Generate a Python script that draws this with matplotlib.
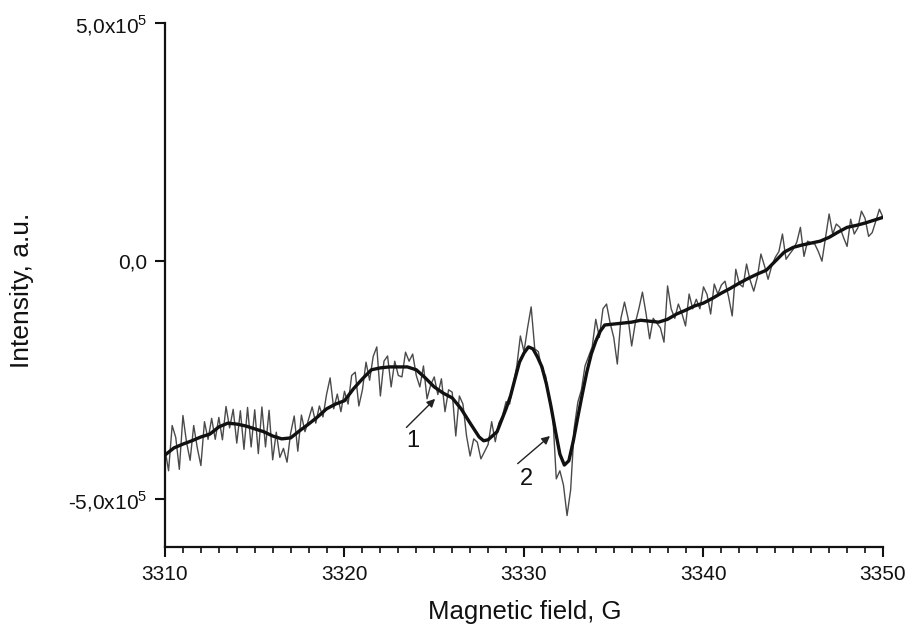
import matplotlib
matplotlib.use("Agg")
import matplotlib.pyplot as plt
import numpy as np
from matplotlib.ticker import MultipleLocator, FixedLocator, FixedFormatter

plt.rcParams['font.family'] = ['Liberation Sans', 'DejaVu Sans']
plt.rcParams['mathtext.fontset'] = 'custom'
plt.rcParams['mathtext.rm'] = 'Liberation Sans'

# ---- data (intensity in units of 1e4 a.u.) ----
field_start = 3310.0
field_step = 0.2
raw_intensity = [
    -39.5, -44.0, -34.5, -37.0, -43.7, -32.4, -38.0, -41.8, -34.5, -39.2,
    -42.9, -33.7, -37.4, -33.0, -37.4, -32.8, -37.5, -30.5, -35.0, -31.1,
    -38.2, -31.4, -39.5, -30.7, -39.0, -31.2, -40.4, -30.6, -39.0, -31.3,
    -41.7, -35.9, -41.2, -39.3, -42.2, -36.1, -32.5, -39.9, -32.3, -35.8,
    -33.2, -30.6, -34.0, -30.4, -32.7, -28.0, -24.5, -31.0, -27.9, -31.6,
    -27.3, -30.0, -24.0, -23.3, -30.4, -27.0, -21.2, -25.0, -20.0, -18.0,
    -28.3, -21.0, -19.9, -26.4, -21.0, -24.0, -24.3, -19.1, -21.0, -19.5,
    -24.0, -26.4, -22.0, -28.9, -26.0, -24.3, -28.0, -24.7, -31.6, -27.0,
    -27.5, -36.7, -28.3, -30.0, -36.7, -40.9, -37.3, -38.0, -41.5, -40.0,
    -38.5, -33.7, -37.9, -34.0, -32.5, -29.5, -30.0, -26.0, -22.0, -15.7,
    -19.0, -14.0, -9.6, -18.4, -19.0, -23.0, -24.0, -28.9, -32.0, -45.7,
    -44.0, -47.0, -53.4, -48.0, -35.0, -29.6, -27.0, -22.0, -20.0, -18.0,
    -12.2, -16.0, -10.0, -9.0, -13.0, -16.0, -21.6, -12.0, -8.6, -12.0,
    -17.8, -13.0, -10.0, -6.5, -11.0, -16.3, -12.0, -13.0, -14.0, -17.0,
    -5.2, -10.0, -12.0, -9.0, -11.0, -13.6, -6.9, -10.0, -8.0, -10.0,
    -5.4, -7.0, -11.1, -4.8, -6.9, -5.0, -4.2, -7.5, -11.5, -1.7,
    -4.8, -5.4, -0.6, -4.0, -6.3, -3.4, 1.5, -1.0, -3.8, -1.0,
    0.8, 2.0, 5.7, 0.4, 1.5, 2.5, 4.0, 7.1, 1.0, 4.2,
    3.8, 3.6, 2.0, 0.0, 5.0, 9.9, 5.7, 7.8, 7.1, 5.0,
    3.1, 8.8, 5.7, 7.0, 10.5, 9.0, 5.2, 6.0, 8.4, 10.9,
    9.2,
]

fit_field = [
    3310.0, 3310.5, 3311.0, 3311.5, 3312.0, 3312.5, 3313.0, 3313.5, 3314.0, 3314.5,
    3315.0, 3315.5, 3316.0, 3316.5, 3317.0, 3317.5, 3318.0, 3318.5, 3319.0, 3319.5,
    3320.0, 3320.5, 3321.0, 3321.5, 3322.0, 3322.5, 3323.0, 3323.5, 3324.0, 3324.5,
    3325.0, 3325.5, 3326.0, 3326.5, 3327.0, 3327.5, 3327.75, 3328.0, 3328.5, 3329.0,
    3329.25, 3329.5, 3329.75, 3330.0, 3330.25, 3330.5, 3330.75, 3331.0, 3331.25, 3331.5,
    3331.75, 3332.0, 3332.25, 3332.5, 3332.75, 3333.0, 3333.25, 3333.5, 3333.75, 3334.0,
    3334.25, 3334.5, 3335.0, 3335.5, 3336.0, 3336.5, 3337.0, 3337.5, 3338.0, 3338.5,
    3339.0, 3339.5, 3340.0, 3340.5, 3341.0, 3341.5, 3342.0, 3342.5, 3343.0, 3343.5,
    3344.0, 3344.5, 3345.0, 3345.5, 3346.0, 3346.5, 3347.0, 3347.5, 3348.0, 3348.5,
    3349.0, 3349.5, 3350.0,
]
fit_intensity = [
    -40.7, -39.2, -38.4, -37.7, -36.9, -36.3, -34.8, -34.0, -34.2, -34.6,
    -35.2, -35.8, -36.7, -37.3, -37.1, -35.6, -34.2, -32.7, -31.0, -30.0,
    -29.3, -26.8, -24.7, -22.8, -22.4, -22.2, -22.2, -22.2, -22.8, -24.5,
    -26.4, -27.7, -28.7, -31.0, -34.0, -36.9, -37.7, -37.5, -35.8, -31.0,
    -28.3, -24.7, -21.2, -19.3, -18.0, -18.4, -20.1, -22.2, -25.8, -30.4,
    -35.6, -40.5, -42.8, -41.9, -37.7, -32.7, -27.9, -23.3, -19.5, -16.8,
    -14.7, -13.4, -13.2, -13.0, -12.8, -12.4, -12.6, -12.8, -12.2, -11.1,
    -10.3, -9.4, -8.8, -7.8, -6.7, -5.7, -4.6, -3.6, -2.7, -1.9,
    0.0, 1.9, 2.9, 3.4, 3.8, 4.2, 5.0, 6.1, 7.1, 7.5,
    8.0, 8.6, 9.2,
]

x_ticks = [3310, 3320, 3330, 3340, 3350]
y_ticks = [-5e5, 0, 5e5]
y_tick_labels = [r'-5,0x10$^{5}$', '0,0', r'5,0x10$^{5}$']

scale = 1e4
raw_field = field_start + field_step * np.arange(len(raw_intensity))
raw_y = np.array(raw_intensity) * scale
fit_y = np.array(fit_intensity) * scale

fig = plt.figure(figsize=(9.1, 6.35), dpi=100)
ax = fig.add_axes([0.1813, 0.1386, 0.9703 - 0.1813, 0.9638 - 0.1386])

ax.plot(raw_field, raw_y, color='#4a4a4a', lw=1.0, zorder=2)
ax.plot(fit_field, fit_y, color='#111111', lw=2.4, zorder=3)

ax.set_xlim(3310, 3350)
ax.set_ylim(-6e5, 5e5)

ax.xaxis.set_major_locator(FixedLocator(x_ticks))
ax.xaxis.set_minor_locator(MultipleLocator(1))
ax.yaxis.set_major_locator(FixedLocator(y_ticks))
ax.yaxis.set_major_formatter(FixedFormatter(y_tick_labels))

for s in ['top', 'right']:
    ax.spines[s].set_visible(False)
for s in ['left', 'bottom']:
    ax.spines[s].set_linewidth(1.6)
    ax.spines[s].set_color('#111111')

ax.tick_params(axis='both', which='major', direction='out', length=7, width=1.5,
               labelsize=15, colors='#111111', pad=6)
ax.tick_params(axis='x', which='minor', direction='out', length=4, width=1.2, colors='#111111')

ax.set_xlabel('Magnetic field, G', fontsize=18.5, color='#111111', va='center')
ax.set_ylabel('Intensity, a.u.', fontsize=19, color='#111111', va='center')
ax.xaxis.set_label_coords(0.501, -0.124)
ax.yaxis.set_label_coords(-0.199, 0.49)

# annotations
ax.annotate('', xy=(3325.05, -28.9e4), xytext=(3323.45, -34.9e4),
            arrowprops=dict(arrowstyle='-|>', color='#222222', lw=1.0,
                            mutation_scale=12, shrinkA=0, shrinkB=0))
ax.text(3323.8, -37.7e4, '1', fontsize=17, ha='center', va='center', color='#111111')
ax.annotate('', xy=(3331.45, -36.7e4), xytext=(3329.65, -42.5e4),
            arrowprops=dict(arrowstyle='-|>', color='#222222', lw=1.0,
                            mutation_scale=12, shrinkA=0, shrinkB=0))
ax.text(3330.15, -45.8e4, '2', fontsize=17, ha='center', va='center', color='#111111')

fig.savefig('out.png', dpi=100, facecolor='white')
